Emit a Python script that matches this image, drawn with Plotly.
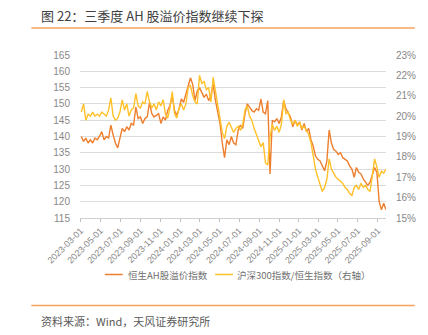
import pandas as pd
import plotly.graph_objects as go

# ---------------- data ----------------
dates = pd.date_range("2023-03-03", periods=135, freq="7D")

ah_premium = [
    140, 138.5, 139.5, 138, 139, 138, 139.5, 139, 140, 141.5,
    139, 140, 139.5, 143.5, 140.5, 138, 136.5, 140, 142.5, 141.5,
    143, 142, 144, 143.5, 149, 145.5, 146, 144, 145.5, 146,
    150.5, 147, 146, 146.5, 147, 144, 146, 145, 148, 149.5,
    152.5, 148, 146.5, 148.5, 151.5, 150.5, 153.5, 155.5, 158, 156,
    151, 154, 155, 153.5, 152, 153, 151, 152.5, 156, 151,
    147, 144, 138, 133.5, 139, 137.5, 140, 138, 137.5, 142,
    143.5, 142.5, 147, 150, 149, 148, 147.5, 148.5, 148, 151.5,
    147.5, 147, 151, 128.5, 145, 144.5, 145.5, 144, 146, 151,
    148.5, 147, 146, 143, 145, 143.5, 144.5, 142, 144, 141.5,
    142.5, 139, 137, 134, 133, 132.5, 131, 129.5, 132.5, 142,
    138, 136, 135.5, 134.5, 135, 133.5, 133, 132.5, 131, 130,
    127.5, 130.5, 129, 128.5, 127, 126, 125, 126, 128, 130.5,
    129, 120, 117.5, 119.5, 117.5,
]

csi_hsi_ratio = [
    20.2, 20.6, 19.8, 20.1, 20.0, 20.2, 20.0, 20.1, 20.0, 20.2,
    20.1, 20.0, 20.3, 20.9, 20.0, 19.8, 19.9, 20.2, 20.8, 20.3,
    20.6, 20.0, 20.3, 20.4, 21.1, 20.5, 20.4, 20.7, 20.6, 21.2,
    20.7, 20.4, 20.6, 20.3, 20.7, 20.5, 20.8, 20.1, 19.9, 20.4,
    21.2, 20.1, 19.9, 20.4, 20.6, 20.3, 20.6, 21.4, 21.5, 21.0,
    20.7, 20.6, 22.0, 21.6, 21.7, 21.3, 21.4, 20.7, 21.9, 21.2,
    20.4, 19.8, 19.2, 18.9, 19.5, 19.7, 19.4, 19.2, 19.4, 19.5,
    19.3, 19.6, 20.3, 20.5, 20.0, 19.8, 19.4, 19.1, 18.8, 18.5,
    18.7, 17.7, 17.6, 19.0, 19.6, 19.3, 19.5, 19.2, 19.6, 20.8,
    20.1, 20.2, 19.8, 19.6, 19.8, 19.5, 19.7, 19.4, 19.5, 19.3,
    19.1, 18.7, 18.0, 17.4, 17.0, 16.6, 16.3, 16.5, 16.9, 17.9,
    17.4, 17.2, 17.0, 16.9, 16.8, 16.7, 16.5, 16.4, 16.2, 16.1,
    16.5, 16.6, 16.4, 16.7, 16.5, 16.6, 16.4, 16.3, 17.1, 17.9,
    17.5, 17.0, 17.3, 17.2, 17.4,
]

tick_dates = ["2023-03-01", "2023-05-01", "2023-07-01", "2023-09-01",
              "2023-11-01", "2024-01-01", "2024-03-01", "2024-05-01",
              "2024-07-01", "2024-09-01", "2024-11-01", "2025-01-01",
              "2025-03-01", "2025-05-01", "2025-07-01", "2025-09-01"]
left_ticks = [115, 120, 125, 130, 135, 140, 145, 150, 155, 160, 165]
right_ticks = [15, 16, 17, 18, 19, 20, 21, 22, 23]
right_tick_labels = ["15%", "16%", "17%", "18%", "19%", "20%", "21%", "22%", "23%"]

series_names = ["恒生AH股溢价指数", "沪深300指数/恒生指数（右轴）"]
title_text = "图 22：三季度 AH 股溢价指数继续下探"
source_text = "资料来源：Wind，天风证券研究所"

# ---------------- layout helpers ----------------
W, H = 428, 335
L, R, T, B = 80, 388, 55, 218  # plot area in pixels


def px(x):
    return (x - L) / (R - L)


def py(y):
    return (B - y) / (B - T)


C_ORANGE = "#EE7F2E"
C_YELLOW = "#FFC12A"
C_LINE = "#F5A35E"
TICK_COLOR = "#888888"
CJK = "Noto Sans CJK SC"

fig = go.Figure()
fig.add_trace(go.Scatter(x=dates, y=ah_premium, name=series_names[0],
                         mode="lines", line=dict(color=C_ORANGE, width=1.4),
                         yaxis="y", showlegend=False))
fig.add_trace(go.Scatter(x=dates, y=csi_hsi_ratio, name=series_names[1],
                         mode="lines", line=dict(color=C_YELLOW, width=1.4),
                         yaxis="y2", showlegend=False))

fig.update_layout(
    width=W, height=H, autosize=False,
    margin=dict(l=L, r=W - R, t=T, b=H - B, pad=0),
    paper_bgcolor="white", plot_bgcolor="white",
    font=dict(family="Liberation Sans, Arial", color=TICK_COLOR, size=10),
    xaxis=dict(
        type="date",
        range=["2023-02-27", "2025-09-26"],
        tickvals=tick_dates, ticktext=tick_dates,
        tickangle=-45, tickfont=dict(size=9, color=TICK_COLOR),
        ticks="outside", ticklen=3, tickcolor="#BFBFBF",
        showline=True, linecolor="#D0D0D0", linewidth=1,
        showgrid=False, zeroline=False,
    ),
    yaxis=dict(
        range=[115, 165], tickvals=left_ticks,
        tickfont=dict(size=10, color=TICK_COLOR),
        showgrid=True, gridcolor="#DCDCDC", gridwidth=1,
        zeroline=False, showline=False, ticklabelstandoff=9,
    ),
    yaxis2=dict(
        range=[15, 23], tickvals=right_ticks, ticktext=right_tick_labels,
        overlaying="y", side="right",
        tickfont=dict(size=10, color=TICK_COLOR),
        showgrid=False, zeroline=False, showline=False, ticklabelstandoff=9,
    ),
)

shapes = [
    dict(type="line", xref="paper", yref="paper",
         x0=px(31), x1=px(417), y0=py(28), y1=py(28),
         line=dict(color=C_LINE, width=1.5)),
    dict(type="line", xref="paper", yref="paper",
         x0=px(31), x1=px(417), y0=py(305.5), y1=py(305.5),
         line=dict(color=C_LINE, width=1.5)),
    dict(type="line", xref="paper", yref="paper",
         x0=px(105), x1=px(123), y0=py(274.5), y1=py(274.5),
         line=dict(color=C_ORANGE, width=1.5)),
    dict(type="line", xref="paper", yref="paper",
         x0=px(216), x1=px(234), y0=py(274.5), y1=py(274.5),
         line=dict(color=C_YELLOW, width=1.5)),
]
fig.update_layout(shapes=shapes)

annotations = [
    dict(text=title_text, xref="paper", yref="paper",
         x=px(39), y=py(15), xanchor="left", yanchor="middle",
         showarrow=False, font=dict(family=CJK, size=13, color="#404040")),
    dict(text=source_text, xref="paper", yref="paper",
         x=px(39), y=py(320.5), xanchor="left", yanchor="middle",
         showarrow=False, font=dict(family=CJK, size=11, color="#595959")),
    dict(text=series_names[0], xref="paper", yref="paper",
         x=px(126), y=py(274.5), xanchor="left", yanchor="middle",
         showarrow=False, font=dict(family=CJK, size=9.5, color="#707070")),
    dict(text=series_names[1], xref="paper", yref="paper",
         x=px(236), y=py(274.5), xanchor="left", yanchor="middle",
         showarrow=False, font=dict(family=CJK, size=9.5, color="#707070")),
]
fig.update_layout(annotations=annotations)

fig.write_html("out.html")
